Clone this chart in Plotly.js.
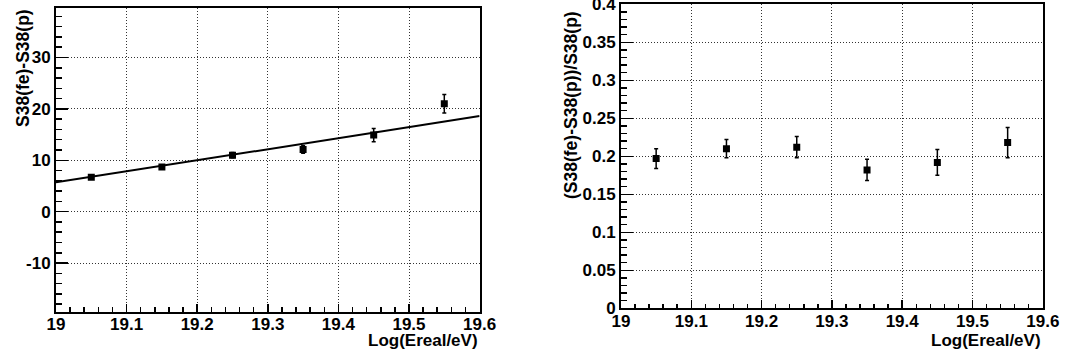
<!DOCTYPE html>
<html>
<head>
<meta charset="utf-8">
<script src="https://cdn.plot.ly/plotly-3.0.1.min.js"></script>
<style>
  html, body { margin: 0; padding: 0; background: #fff; }
  #chart { width: 1065px; height: 358px; }
</style>
</head>
<body>
<div id="chart"></div>
<script>
// ---- data ----
const logE = [19.05, 19.15, 19.25, 19.35, 19.45, 19.55];
const diffS38 = [6.7, 8.7, 11.0, 12.1, 14.9, 21.0];
const diffS38Err = [0.3, 0.4, 0.5, 0.75, 1.3, 1.8];
const ratioS38 = [0.197, 0.210, 0.212, 0.182, 0.192, 0.218];
const ratioS38Err = [0.013, 0.012, 0.014, 0.014, 0.017, 0.020];
const fitX = [19.0, 19.6];
const fitY = [5.7, 18.6];
const xTickVals = [19, 19.1, 19.2, 19.3, 19.4, 19.5, 19.6];
const xTickText = ['19', '19.1', '19.2', '19.3', '19.4', '19.5', '19.6'];
const y1TickVals = [-10, 0, 10, 20, 30];
const y1TickText = ['-10', '0', '10', '20', '30'];
const y2TickVals = [0, 0.05, 0.1, 0.15, 0.2, 0.25, 0.3, 0.35, 0.4];
const y2TickText = ['0', '0.05', '0.1', '0.15', '0.2', '0.25', '0.3', '0.35', '0.4'];
const leftYTitle = 'S38(fe)-S38(p)';
const rightYTitle = '(S38(fe)-S38(p))/S38(p)';
const xTitle = 'Log(Ereal/eV)';

// ---- layout helpers ----
const W = 1065, H = 358;
const px = v => v / W;
const py = v => (H - v) / H;
const FONT = '"Liberation Sans", Arial, Helvetica, sans-serif';
const tfont = {family: FONT, size: 17, color: '#000', weight: 700};
const titleFont = {family: FONT, size: 17.5, color: '#000', weight: 700};
const bold = arr => arr.map(s => '<b>' + s + '</b>');

const markerStyle = {symbol: 'square', size: 7, color: '#000'};
const errStyle = {type: 'data', visible: true, color: '#000', thickness: 1.5, width: 2};

const traces = [
  {
    x: fitX, y: fitY, xaxis: 'x', yaxis: 'y', mode: 'lines',
    line: {color: '#000', width: 2}, hoverinfo: 'skip'
  },
  {
    x: logE, y: diffS38, xaxis: 'x', yaxis: 'y', mode: 'markers',
    marker: markerStyle,
    error_y: Object.assign({array: diffS38Err}, errStyle)
  },
  {
    x: logE, y: ratioS38, xaxis: 'x2', yaxis: 'y2', mode: 'markers',
    marker: markerStyle,
    error_y: Object.assign({array: ratioS38Err}, errStyle)
  }
];

const gridStyle = {showgrid: true, gridcolor: '#333', griddash: '1px,2px', gridwidth: 1};

function xAxis(domain, anchor) {
  return Object.assign({
    domain: domain, anchor: anchor, range: [19, 19.6],
    tickmode: 'array', tickvals: xTickVals, ticktext: bold(xTickText),
    ticks: 'inside', ticklen: 8, tickwidth: 1.5, tickcolor: '#000',
    minor: {ticks: 'inside', ticklen: 4.5, tickwidth: 1.5, tickcolor: '#000', dtick: 0.02, tick0: 19, showgrid: false},
    showline: true, linecolor: '#000', linewidth: 2, mirror: true,
    zeroline: false, tickfont: tfont, fixedrange: true,
    ticklabeloverflow: 'allow', ticklabelstandoff: -4
  }, gridStyle);
}
function yAxis(domain, anchor, range, tv, tt, mdt) {
  return Object.assign({
    domain: domain, anchor: anchor, range: range,
    tickmode: 'array', tickvals: tv, ticktext: bold(tt),
    ticks: 'inside', ticklen: 12, tickwidth: 1.5, tickcolor: '#000',
    minor: {ticks: 'inside', ticklen: 6, tickwidth: 1.5, tickcolor: '#000', dtick: mdt, tick0: 0, showgrid: false},
    showline: true, linecolor: '#000', linewidth: 2, mirror: true,
    zeroline: false, tickfont: tfont, fixedrange: true,
    ticklabeloverflow: 'allow'
  }, gridStyle);
}

const layout = {
  width: W, height: H,
  margin: {l: 0, r: 0, t: 0, b: 0},
  paper_bgcolor: '#fff', plot_bgcolor: '#fff',
  showlegend: false,
  xaxis: xAxis([px(56), px(479.6)], 'y'),
  yaxis: yAxis([py(311.7), py(8.3)], 'x', [-19.46, 39.57], y1TickVals, y1TickText, 2),
  xaxis2: xAxis([px(621), px(1042.8)], 'y2'),
  yaxis2: yAxis([py(308.3), py(4.3)], 'x2', [0, 0.4], y2TickVals, y2TickText, 0.01),
  annotations: [
    {text: '<b>' + xTitle + '</b>', xref: 'paper', yref: 'paper', x: px(480), y: py(340),
     xanchor: 'right', yanchor: 'middle', showarrow: false, font: tfont},
    {text: '<b>' + xTitle + '</b>', xref: 'paper', yref: 'paper', x: px(1043), y: py(340),
     xanchor: 'right', yanchor: 'middle', showarrow: false, font: tfont},
    {text: '<b>' + leftYTitle + '</b>', xref: 'paper', yref: 'paper', x: px(23), y: py(68),
     xanchor: 'center', yanchor: 'middle', textangle: -90, showarrow: false, font: titleFont},
    {text: '<b>' + rightYTitle + '</b>', xref: 'paper', yref: 'paper', x: px(571), y: py(105),
     xanchor: 'center', yanchor: 'middle', textangle: -90, showarrow: false, font: titleFont}
  ]
};

Plotly.newPlot('chart', traces, layout, {displayModeBar: false, staticPlot: true});
</script>
</body>
</html>
